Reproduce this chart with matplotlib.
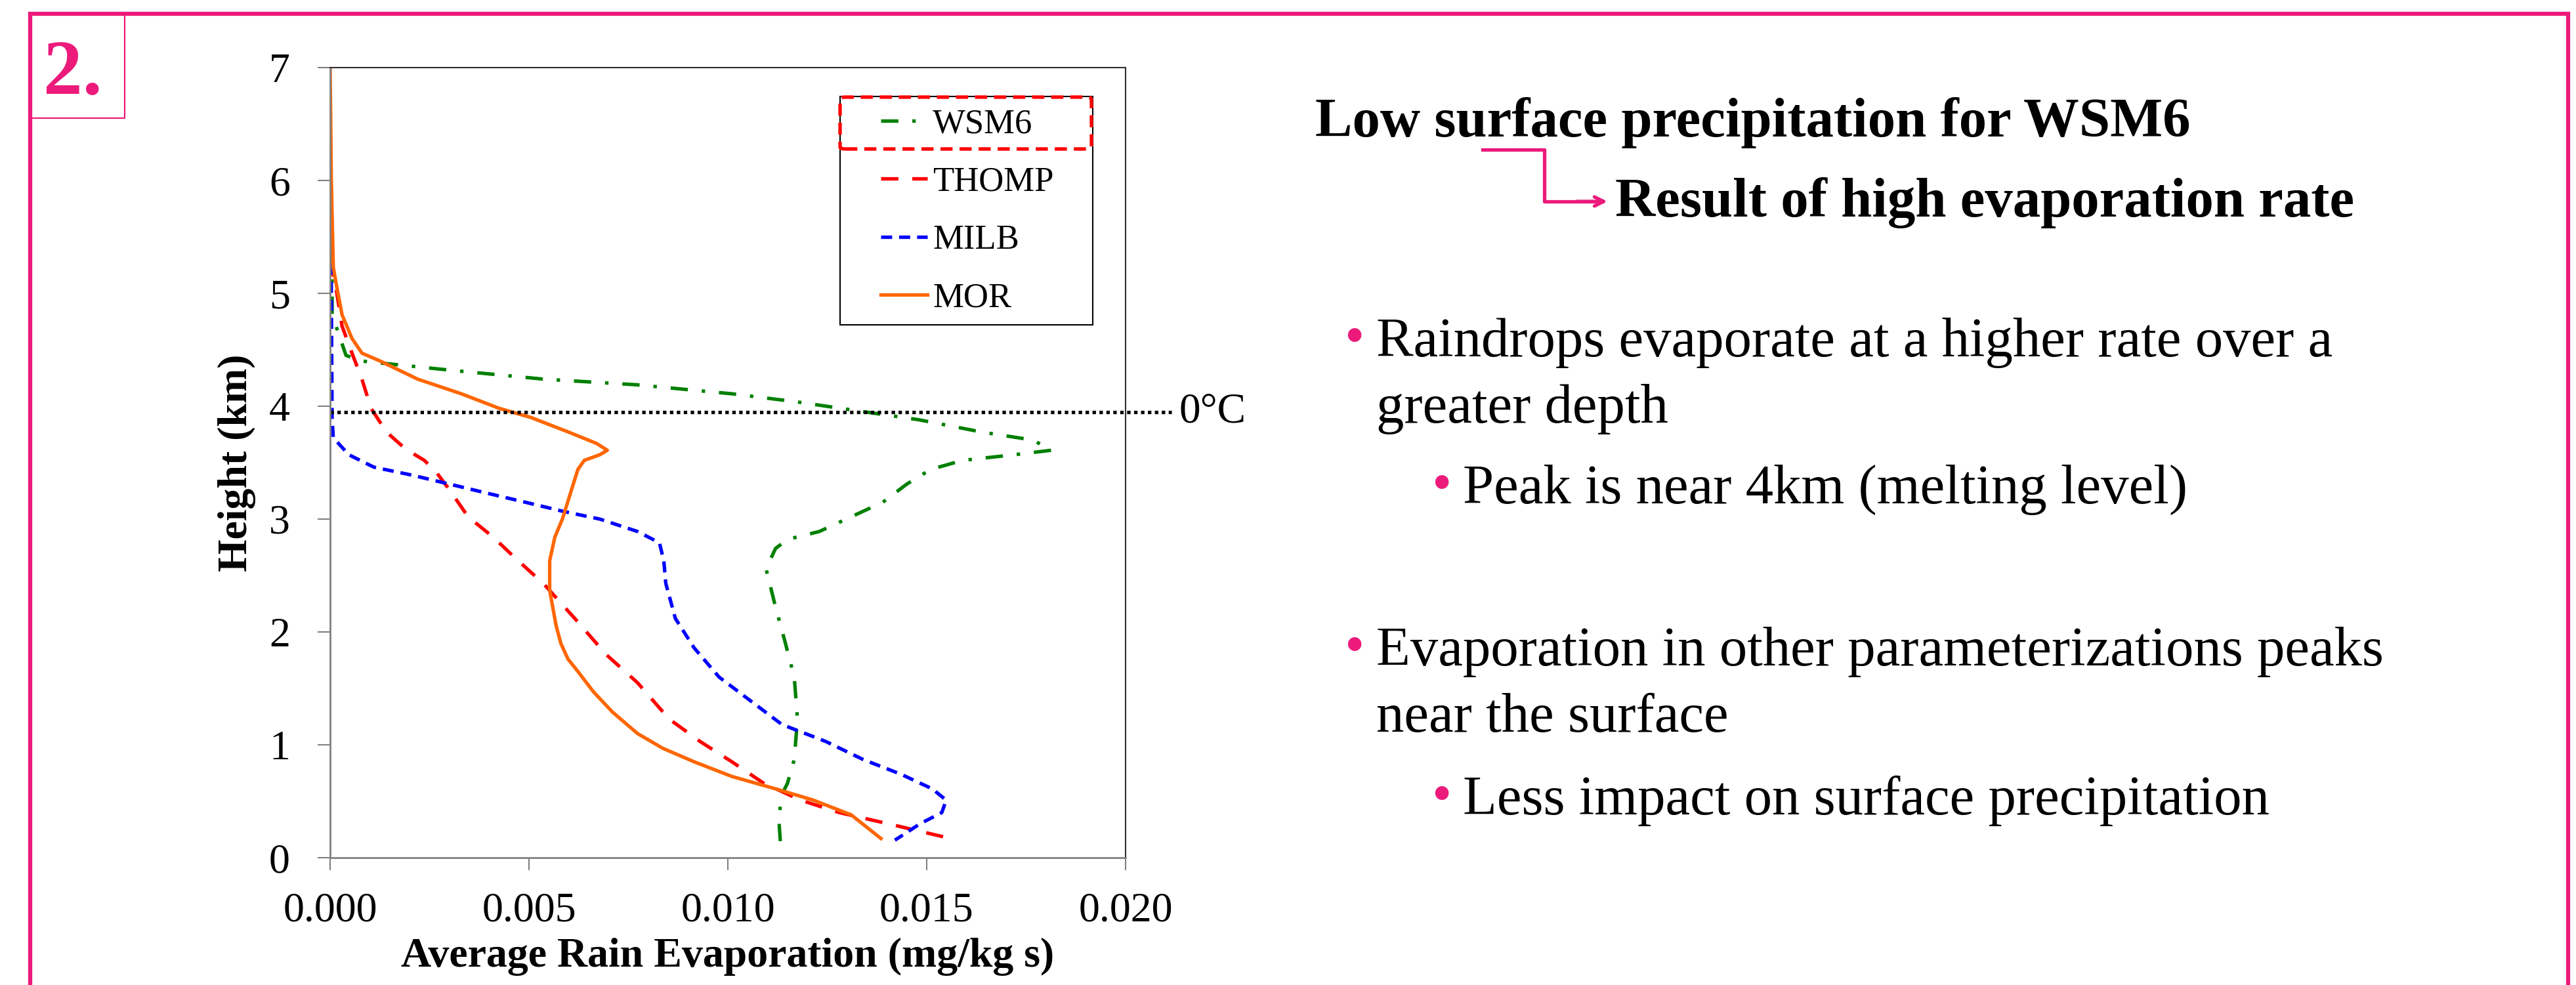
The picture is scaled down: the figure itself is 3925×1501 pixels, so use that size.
import numpy as np
import matplotlib
matplotlib.use("Agg")
from matplotlib import pyplot as plt
from matplotlib.lines import Line2D
from matplotlib.patches import Rectangle, FancyBboxPatch

# 数据：高度 (km) 与平均雨水蒸发率 (mg/kg s)
wsm6_x = [0.0, 0.00005, 0.00005, 0.0004, 0.0008, 0.003, 0.00536, 0.0077, 0.0101, 0.0117,
          0.01325, 0.0148, 0.0164, 0.01767, 0.01814, 0.0172, 0.0159, 0.0151, 0.0145,
          0.0139, 0.0131, 0.0123, 0.0115, 0.0112, 0.01096, 0.0112, 0.01144, 0.01167,
          0.01175, 0.01167, 0.0115, 0.01136, 0.01128, 0.01132]
wsm6_y = [5.4, 5.17, 4.81, 4.45, 4.40, 4.32, 4.24, 4.19, 4.11, 4.04,
          3.96, 3.88, 3.77, 3.70, 3.61, 3.57, 3.52, 3.44, 3.31,
          3.15, 3.02, 2.89, 2.82, 2.74, 2.56, 2.22, 1.91, 1.60,
          1.23, 0.87, 0.66, 0.56, 0.35, 0.145]

thomp_x = [0.0, 0.00016, 0.0003, 0.00055, 0.0008, 0.00103, 0.00142, 0.0019, 0.00237,
           0.00268, 0.003, 0.00347, 0.0041, 0.00473, 0.00536, 0.00615, 0.00694, 0.00773,
           0.00852, 0.0093, 0.0101, 0.0109, 0.01183, 0.0128, 0.01404, 0.0156]
thomp_y = [5.3, 5.02, 4.71, 4.47, 4.24, 3.98, 3.77, 3.62, 3.52,
           3.41, 3.26, 3.02, 2.84, 2.63, 2.43, 2.12, 1.80, 1.55,
           1.23, 1.03, 0.85, 0.66, 0.51, 0.40, 0.30, 0.17]

milb_x = [0.0, 0.00002, 0.00005, 0.00008, 0.00047, 0.0011, 0.00205, 0.003, 0.00394,
          0.0049, 0.00584, 0.00678, 0.00773, 0.00828, 0.00839, 0.00844, 0.00868,
          0.00915, 0.00978, 0.01057, 0.01136, 0.01246, 0.0134, 0.01435, 0.01514,
          0.01549, 0.01538, 0.01483, 0.0142]
milb_y = [5.9, 5.59, 3.88, 3.72, 3.57, 3.46, 3.39, 3.31, 3.23,
          3.15, 3.07, 3.00, 2.89, 2.79, 2.63, 2.43, 2.12,
          1.86, 1.60, 1.39, 1.18, 1.03, 0.87, 0.74, 0.61,
          0.51, 0.40, 0.30, 0.155]

mor_x = [0.0, 0.00003, 0.00008, 0.00016, 0.0003, 0.00055, 0.0008, 0.00126, 0.0022,
         0.0033, 0.00426, 0.00505, 0.006, 0.0067, 0.00697, 0.00678, 0.00639, 0.00623,
         0.00607, 0.00584, 0.00565, 0.00552, 0.00552, 0.00568, 0.00580, 0.00598, 0.00623,
         0.00662, 0.0071, 0.00773, 0.00836, 0.00915, 0.0101, 0.0112, 0.01215,
         0.0131, 0.01385]
mor_y = [7.0, 6.0, 5.23, 5.07, 4.81, 4.60, 4.47, 4.40, 4.24,
         4.11, 3.98, 3.90, 3.77, 3.67, 3.61, 3.57, 3.52, 3.44,
         3.26, 3.00, 2.84, 2.63, 2.37, 2.06, 1.90, 1.76, 1.65,
         1.47, 1.29, 1.10, 0.97, 0.85, 0.72, 0.61, 0.51,
         0.38, 0.17]

labels = ["WSM6", "THOMP", "MILB", "MOR"]
freezing_level = 3.95
xticks = [0.0, 0.005, 0.010, 0.015, 0.020]
yticks = [0, 1, 2, 3, 4, 5, 6, 7]

title_text = "Low surface precipitation for WSM6"
result_text = "Result of high evaporation rate"
bullets = [
    (0, "Raindrops evaporate at a higher rate over a", "greater depth"),
    (1, "Peak is near 4km (melting level)", None),
    (0, "Evaporation in other parameterizations peaks", "near the surface"),
    (1, "Less impact on surface precipitation", None),
]

W, H = 3925, 1501
PINK = "#EC1A7B"
SERIF = ["Liberation Serif", "DejaVu Serif"]
plt.rcParams["font.family"] = SERIF


def fx(x):
    return x / W


def fy(y):
    return 1 - y / H


fig = plt.figure(figsize=(W / 100, H / 100), dpi=100)
ax = fig.add_axes([fx(503), fy(1307), (1715 - 503) / W, (1307 - 103) / H])

lw = 3.8
ax.plot(wsm6_x, wsm6_y, color="#008000", lw=lw, ls=(0, (5, 4, 1, 4)), label=labels[0])
ax.plot(thomp_x, thomp_y, color="#FF0000", lw=lw, ls=(0, (5, 4)), label=labels[1])
ax.plot(milb_x, milb_y, color="#0000FF", lw=lw, ls=(0, (3.2, 2)), label=labels[2])
ax.plot(mor_x, mor_y, color="#FF6600", lw=lw, ls="-", label=labels[3])

# 0°C 线
ax.plot([0, 0.02116], [freezing_level, freezing_level], color="black", lw=3.8,
        ls=(0, (1, 1)), clip_on=False)
ax.text(0.02135, freezing_level, "0°C", fontsize=47, va="center", ha="left")

ax.set_xlim(0, 0.02)
ax.set_ylim(0, 7)
ax.set_xticks(xticks)
ax.set_yticks(yticks)
ax.set_xticklabels(["%.3f" % v for v in xticks])
ax.tick_params(axis="both", labelsize=46, direction="out", length=14, width=1.5,
               color="#808080")
ax.tick_params(axis="x", pad=24)
ax.tick_params(axis="y", pad=30)
for s in ["left", "bottom"]:
    ax.spines[s].set_color("#808080")
    ax.spines[s].set_linewidth(2)
for s in ["top", "right"]:
    ax.spines[s].set_color("#303030")
    ax.spines[s].set_linewidth(1.5)

ax.set_xlabel("Average Rain Evaporation (mg/kg s)", fontsize=46, fontweight="bold",
              labelpad=8)
ax.set_ylabel("Height (km)", fontsize=46, fontweight="bold", labelpad=14)

# 图例
leg = ax.legend(loc="center left", bbox_to_anchor=(fx(1342), fy(322)),
                bbox_transform=fig.transFigure, frameon=False, fontsize=38,
                borderpad=0, borderaxespad=0, handlelength=1.35, handletextpad=0.15,
                labelspacing=0.76)
fig.add_artist(Rectangle((fx(1280), fy(495)), (1665 - 1280) / W, (495 - 147) / H,
                         transform=fig.transFigure, fill=False, ec="black", lw=1.5))
fig.add_artist(FancyBboxPatch((fx(1280), fy(227)), (1663 - 1280) / W, (227 - 148) / H,
                              boxstyle="round,pad=0,rounding_size=0.002",
                              transform=fig.transFigure, fill=False, ec="#FF0000",
                              lw=3.8, ls=(0, (3.5, 2))))

# 外框
fig.add_artist(Line2D([fx(46), fx(46), fx(3913), fx(3913)], [fy(1501), fy(21), fy(21), fy(1501)],
                      transform=fig.transFigure, color=PINK, lw=4.5, solid_joinstyle="miter"))
fig.add_artist(Line2D([fx(46), fx(190), fx(190)], [fy(180), fy(180), fy(21)],
                      transform=fig.transFigure, color=PINK, lw=1.6))
fig.text(fx(66), fy(143), "2.", fontsize=86, fontweight="bold", color=PINK,
         ha="left", va="baseline")

# 右侧文字
fig.text(fx(2004), fy(208), title_text, fontsize=61, fontweight="bold",
         ha="left", va="baseline")
fig.add_artist(Line2D([fx(2259), fx(2353), fx(2353), fx(2440)],
                      [fy(228), fy(228), fy(307), fy(307)],
                      transform=fig.transFigure, color=PINK, lw=3.8))
ax.annotate("", xy=(fx(2452), fy(307)), xytext=(fx(2400), fy(307)),
            xycoords="figure fraction", textcoords="figure fraction",
            arrowprops=dict(arrowstyle="->,head_length=1.0,head_width=0.5",
                            color=PINK, lw=3.8))
fig.text(fx(2461), fy(330), result_text, fontsize=61, fontweight="bold",
         ha="left", va="baseline")

baselines = [543, 767, 1014, 1241]
for (level, line1, line2), yb in zip(bullets, baselines):
    bx = 2048 if level == 0 else 2181
    tx = 2097 if level == 0 else 2229
    fig.text(fx(bx), fy(yb - 4), "•", fontsize=62, color=PINK, ha="left", va="baseline")
    fig.text(fx(tx), fy(yb), line1, fontsize=61, ha="left", va="baseline")
    if line2:
        fig.text(fx(tx), fy(yb + 101), line2, fontsize=61, ha="left", va="baseline")

fig.savefig("out.png", dpi=100)
